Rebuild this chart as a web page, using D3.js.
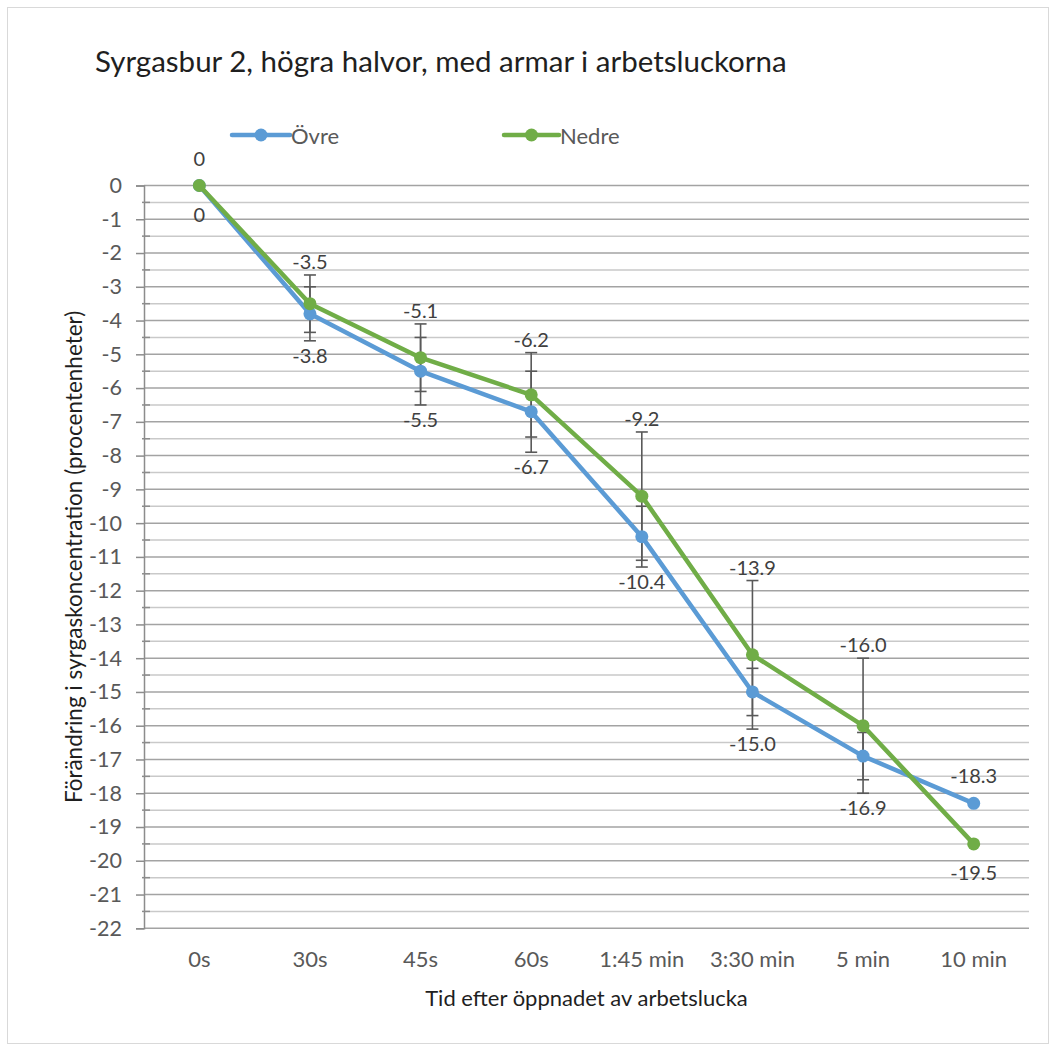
<!DOCTYPE html>
<html>
<head>
<meta charset="utf-8">
<script src="https://cdn.jsdelivr.net/npm/d3@7"></script>
<style>
  html, body { margin: 0; padding: 0; background: #fff; }
  svg text { font-family: Lato, "Open Sans", sans-serif; }
</style>
</head>
<body>
<svg id="chart" width="1056" height="1050"></svg>
<script>
// Time points after opening the work hatch
const categories = ["0s", "30s", "45s", "60s", "1:45 min", "3:30 min", "5 min", "10 min"];

// Change in oxygen concentration (percentage points)
const ovreValues  = [0, -3.8, -5.5, -6.7, -10.4, -15.0, -16.9, -18.3];
const nedreValues = [0, -3.5, -5.1, -6.2, -9.2, -13.9, -16.0, -19.5];

// Error bar half-lengths (0 = no error bar)
const ovreErrors  = [0, 0.8, 1.0, 1.2, 0.9, 0.7, 0.7, 0];
const nedreErrors = [0, 0.85, 1.0, 1.25, 1.9, 2.2, 2.0, 0];

// Which side each data label sits on
const ovreLabelSide  = ["below", "below", "below", "below", "below", "below", "below", "above"];
const nedreLabelSide = ["above", "above", "above", "above", "above", "above", "above", "below"];

// Y axis tick values
const yTickValues = d3.range(0, -23, -1);
const yMinorValues = d3.range(-0.5, -22, -1);

const seriesNames = ["Övre", "Nedre"];

const series = [
  { name: seriesNames[0], values: ovreValues, errors: ovreErrors, side: ovreLabelSide, color: "#5B9BD5" },
  { name: seriesNames[1], values: nedreValues, errors: nedreErrors, side: nedreLabelSide, color: "#70AD47" }
];

const svg = d3.select("#chart");

// Chart frame
svg.append("rect")
  .attr("x", 7.5).attr("y", 7.5)
  .attr("width", 1041).attr("height", 1036)
  .attr("fill", "#fff").attr("stroke", "#d9d9d9").attr("stroke-width", 1);

const plotLeft = 144, plotRight = 1029, plotTop = 185.5, plotBottom = 928.3;

const x = d3.scaleBand().domain(categories).range([plotLeft, plotRight]).paddingInner(0).paddingOuter(0);
const cx = c => x(c) + x.bandwidth() / 2;
const y = d3.scaleLinear().domain([0, -22]).range([plotTop, plotBottom]);

// Gridlines: minor (half steps) and major (whole steps)
const grid = svg.append("g");
grid.selectAll("line.minor").data(yMinorValues).join("line")
  .attr("class", "minor")
  .attr("x1", plotLeft).attr("x2", plotRight)
  .attr("y1", d => y(d)).attr("y2", d => y(d))
  .attr("stroke", "#c9c9c9").attr("stroke-width", 1.5);
grid.selectAll("line.major").data(yTickValues).join("line")
  .attr("class", "major")
  .attr("x1", plotLeft).attr("x2", plotRight)
  .attr("y1", d => y(d)).attr("y2", d => y(d))
  .attr("stroke", "#a3a3a3").attr("stroke-width", 1.5);

// Y axis
const yAxis = svg.append("g")
  .attr("transform", `translate(${plotLeft},0)`)
  .call(d3.axisLeft(y).tickValues(yTickValues).tickSize(8).tickPadding(14).tickFormat(d => String(d)));
yAxis.select(".domain").attr("stroke", "#8c8c8c").attr("stroke-width", 1.5);
yAxis.selectAll(".tick line").attr("stroke", "#8c8c8c").attr("stroke-width", 1.5);
yAxis.selectAll(".tick text").attr("fill", "#595959").style("font-size", "21.5px");
// Minor ticks crossing the axis
svg.append("g").selectAll("line").data(yMinorValues).join("line")
  .attr("x1", plotLeft - 2).attr("x2", plotLeft + 6)
  .attr("y1", d => y(d)).attr("y2", d => y(d))
  .attr("stroke", "#8c8c8c").attr("stroke-width", 1.5);

// X axis (category labels only)
const xAxis = svg.append("g")
  .attr("transform", `translate(0,${plotBottom})`)
  .call(d3.axisBottom(x).tickSize(0).tickPadding(23));
xAxis.select(".domain").remove();
xAxis.selectAll(".tick text").attr("fill", "#595959").style("font-size", "22px");

// Error bars
const errG = svg.append("g");
const capHalf = 6;
series.forEach(s => {
  categories.forEach((c, i) => {
    const e = s.errors[i];
    if (!e) return;
    const v = s.values[i];
    const px = cx(c);
    const y1 = y(v + e), y2 = y(v - e);
    errG.append("line").attr("x1", px).attr("x2", px).attr("y1", y1).attr("y2", y2)
      .attr("stroke", "#595959").attr("stroke-width", 1.6);
    [y1, y2].forEach(yy => errG.append("line")
      .attr("x1", px - capHalf).attr("x2", px + capHalf).attr("y1", yy).attr("y2", yy)
      .attr("stroke", "#595959").attr("stroke-width", 1.6));
  });
});

// Lines and markers
const line = d3.line().x((d, i) => cx(categories[i])).y(d => y(d));
series.forEach(s => {
  svg.append("path").datum(s.values)
    .attr("d", line).attr("fill", "none")
    .attr("stroke", s.color).attr("stroke-width", 4.5)
    .attr("stroke-linejoin", "round").attr("stroke-linecap", "round");
  svg.append("g").selectAll("circle").data(s.values).join("circle")
    .attr("cx", (d, i) => cx(categories[i])).attr("cy", d => y(d))
    .attr("r", 6.5).attr("fill", s.color);
});

// Data labels, placed clear of the error bars at each time point
const fmt = v => v === 0 ? "0" : v.toFixed(1);
const labelG = svg.append("g");
series.forEach(s => {
  categories.forEach((c, i) => {
    const tops = series.map(t => y(t.values[i] + t.errors[i]));
    const bots = series.map(t => y(t.values[i] - t.errors[i]));
    const hasErr = series.some(t => t.errors[i] > 0);
    const gap = hasErr ? 14 : 28;
    const yc = s.side[i] === "above" ? d3.min(tops) - gap : d3.max(bots) + gap;
    labelG.append("text")
      .attr("x", cx(c)).attr("y", yc)
      .attr("text-anchor", "middle").attr("dominant-baseline", "central")
      .attr("fill", "#404040").style("font-size", "20px")
      .text(fmt(s.values[i]));
  });
});

// Title
svg.append("text")
  .attr("x", 95).attr("y", 72)
  .attr("fill", "#1f1f1f").style("font-size", "29.5px")
  .text("Syrgasbur 2, högra halvor, med armar i arbetsluckorna");

// Legend
const legend = svg.append("g");
const legendItems = [
  { s: series[0], x0: 232, x1: 290 },
  { s: series[1], x0: 504, x1: 559 }
];
legendItems.forEach(it => {
  legend.append("line")
    .attr("x1", it.x0).attr("x2", it.x1).attr("y1", 135).attr("y2", 135)
    .attr("stroke", it.s.color).attr("stroke-width", 4.5).attr("stroke-linecap", "round");
  legend.append("circle")
    .attr("cx", (it.x0 + it.x1) / 2).attr("cy", 135).attr("r", 6.5).attr("fill", it.s.color);
  legend.append("text")
    .attr("x", it.x1 + 1).attr("y", 135).attr("dominant-baseline", "central")
    .attr("fill", "#595959").style("font-size", "22px")
    .text(it.s.name);
});

// Axis titles
svg.append("text")
  .attr("transform", `translate(73,${(plotTop + plotBottom) / 2}) rotate(-90)`)
  .attr("text-anchor", "middle").attr("dominant-baseline", "central")
  .attr("fill", "#1f1f1f").style("font-size", "22.5px")
  .text("Förändring i syrgaskoncentration (procentenheter)");

svg.append("text")
  .attr("x", (plotLeft + plotRight) / 2).attr("y", 997)
  .attr("text-anchor", "middle").attr("dominant-baseline", "central")
  .attr("fill", "#1f1f1f").style("font-size", "22px")
  .text("Tid efter öppnadet av arbetslucka");
</script>
</body>
</html>
